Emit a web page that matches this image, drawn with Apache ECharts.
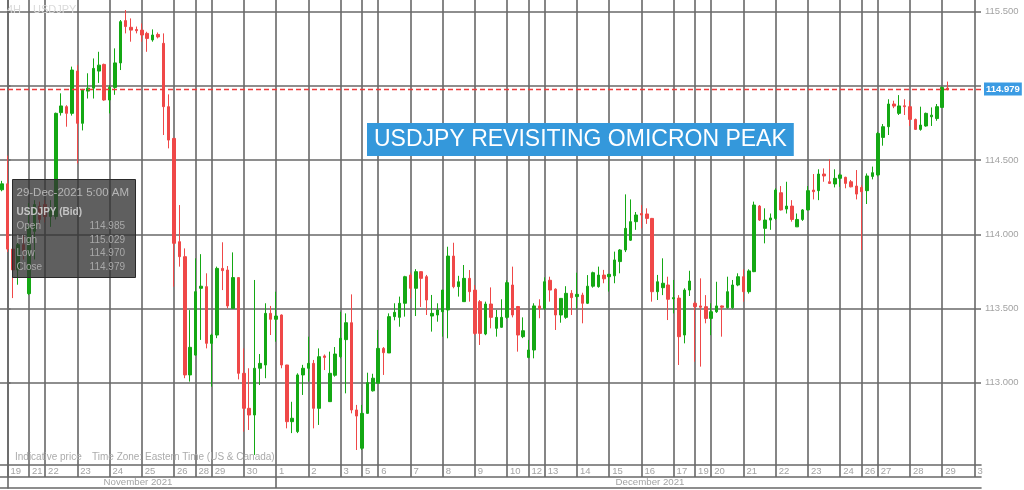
<!DOCTYPE html>
<html><head><meta charset="utf-8">
<script src="https://cdn.jsdelivr.net/npm/echarts@6/dist/echarts.min.js"></script>
<style>html,body{margin:0;padding:0;background:#fff;overflow:hidden}#c{width:1024px;height:490px}</style>
</head><body><div id="c"></div>
<script>
// ---- 4H USDJPY candles (slot index starts at firstSlot) ----
const firstSlot = -1;
const opens = [
114.30,114.34,113.90,113.76,113.93,113.60,114.02,114.19,114.20,114.12,
114.12,114.82,114.86,114.815,115.10,114.748,114.965,114.985,115.10,115.145,
114.905,114.99,115.155,115.44,115.395,115.38,115.376,115.354,115.31,115.347,
115.287,114.86,114.646,113.95,113.849,113.052,113.186,113.636,113.647,113.265,
113.321,113.77,113.759,113.501,113.708,113.063,112.827,112.782,113.097,113.119,
113.467,113.427,113.456,113.119,112.737,112.67,113.052,113.097,113.13,112.827,
113.18,112.872,113.05,113.175,113.29,113.404,112.816,112.558,112.793,112.945,
112.996,113.231,113.20,113.445,113.44,113.535,113.725,113.636,113.748,113.714,
113.449,113.456,113.478,113.49,113.853,113.647,113.546,113.703,113.624,113.546,
113.328,113.53,113.366,113.373,113.44,113.658,113.513,113.31,113.17,113.22,
113.517,113.5,113.69,113.63,113.456,113.44,113.602,113.58,113.59,113.535,
113.65,113.647,113.725,113.714,113.72,113.816,113.894,113.96,114.085,114.14,
114.137,114.107,113.613,113.64,113.658,113.565,113.57,113.321,113.624,113.535,
113.517,113.512,113.433,113.478,113.517,113.505,113.505,113.658,113.714,113.613,
113.748,114.19,114.04,114.096,114.107,114.28,114.17,114.19,114.05,114.1,
114.164,114.298,114.294,114.406,114.354,114.339,114.377,114.384,114.354,114.325,
114.316,114.294,114.39,114.4,114.653,114.725,114.878,114.815,114.866,114.86,
114.774,114.707,114.73,114.792,114.78,114.855,114.985];
const closes = [
114.34,113.90,113.76,113.93,113.89,114.05,114.20,114.10,114.12,114.17,
114.815,114.865,114.815,115.107,114.748,114.972,114.985,115.118,115.14,114.905,
114.99,115.155,115.433,115.40,115.376,115.372,115.343,115.32,115.343,115.33,
114.86,114.635,113.939,113.849,113.052,113.238,113.613,113.65,113.265,113.321,
113.77,113.755,113.517,113.708,113.063,112.827,112.782,113.097,113.13,113.467,
113.427,113.449,113.119,112.737,112.76,113.052,113.097,113.13,112.827,113.175,
113.17,113.063,113.193,113.299,113.404,112.816,112.775,112.793,113.0,113.03,
113.231,113.202,113.445,113.474,113.535,113.714,113.636,113.748,113.703,113.557,
113.467,113.49,113.624,113.853,113.647,113.68,113.703,113.613,113.332,113.332,
113.53,113.44,113.44,113.44,113.674,113.456,113.321,113.35,113.22,113.517,
113.5,113.68,113.624,113.456,113.568,113.602,113.573,113.595,113.535,113.65,
113.741,113.725,113.70,113.73,113.827,113.894,114.04,114.085,114.13,114.13,
114.107,113.613,113.68,113.67,113.562,113.573,113.31,113.624,113.685,113.512,
113.508,113.433,113.478,113.517,113.508,113.613,113.658,113.714,113.613,113.753,
114.197,114.096,114.096,114.11,114.298,114.164,114.19,114.1,114.1,114.164,
114.294,114.287,114.406,114.393,114.343,114.377,114.4,114.343,114.32,114.271,
114.287,114.393,114.415,114.68,114.725,114.878,114.864,114.865,114.86,114.774,
114.707,114.736,114.815,114.803,114.86,114.99,114.979];
const lows = [
114.29,113.88,113.57,113.66,113.83,113.59,113.83,114.05,114.08,114.05,
114.10,114.80,114.725,114.80,114.478,114.70,114.915,114.915,115.02,114.90,
114.815,114.94,115.107,115.354,115.298,115.354,115.298,115.23,115.298,115.32,
114.669,114.579,113.647,113.782,113.03,113.007,113.18,113.288,113.231,112.973,
113.30,113.624,113.501,113.499,113.022,112.67,112.681,112.513,112.984,113.03,
113.321,113.276,113.097,112.692,112.66,112.66,112.917,113.007,112.692,112.715,
113.085,112.87,113.04,113.164,112.928,112.793,112.546,112.546,112.79,112.94,
112.996,113.052,113.2,113.42,113.377,113.445,113.568,113.449,113.51,113.456,
113.344,113.411,113.31,113.299,113.636,113.58,113.546,113.546,113.321,113.254,
113.32,113.366,113.31,113.37,113.43,113.44,113.209,113.3,113.164,113.164,
113.434,113.49,113.546,113.355,113.404,113.43,113.456,113.5,113.4,113.53,
113.64,113.64,113.67,113.614,113.67,113.737,113.88,113.955,114.03,114.04,
114.07,113.546,113.557,113.59,113.422,113.467,113.119,113.265,113.584,113.141,
113.108,113.4,113.32,113.47,113.31,113.5,113.497,113.65,113.546,113.6,
113.745,114.09,113.939,114.03,114.096,114.16,114.14,114.085,114.05,114.09,
114.16,114.235,114.23,114.354,114.34,114.316,114.32,114.31,114.316,114.235,
113.894,114.204,114.37,114.39,114.597,114.669,114.85,114.804,114.804,114.73,
114.703,114.698,114.725,114.73,114.765,114.853,114.970];
const highs = [
114.36,114.53,113.93,113.96,113.99,114.21,114.23,114.22,114.23,114.23,
114.82,114.95,114.87,115.13,115.14,114.98,115.085,115.185,115.23,115.15,
115.005,115.253,115.444,115.511,115.455,115.40,115.421,115.365,115.381,115.36,
115.354,114.943,114.65,114.197,113.905,113.489,113.838,113.866,113.737,113.33,
113.782,113.946,113.786,113.878,113.71,113.231,113.097,113.692,113.193,113.535,
113.517,113.613,113.46,113.12,112.871,113.063,113.12,113.31,113.153,113.231,
113.19,113.209,113.24,113.478,113.467,113.595,112.85,112.85,113.067,113.06,
113.355,113.24,113.467,113.535,113.58,113.72,113.741,113.765,113.75,113.726,
113.591,113.535,113.625,113.916,113.943,113.72,113.793,113.759,113.658,113.557,
113.546,113.642,113.49,113.562,113.69,113.782,113.517,113.44,113.288,113.535,
113.562,113.71,113.714,113.636,113.57,113.65,113.624,113.741,113.606,113.725,
113.748,113.782,113.76,113.733,113.883,113.9,114.269,114.235,114.15,114.197,
114.175,114.11,113.726,113.838,113.714,113.692,113.59,113.636,113.754,113.546,
113.703,113.59,113.535,113.68,113.52,113.714,113.692,113.737,113.764,113.764,
114.22,114.197,114.175,114.14,114.31,114.325,114.354,114.23,114.14,114.17,
114.325,114.406,114.438,114.444,114.505,114.438,114.41,114.388,114.366,114.433,
114.332,114.41,114.456,114.69,114.743,114.91,114.9,114.938,114.91,114.9,
114.78,114.86,114.82,114.855,114.878,114.995,115.029];

// ---- trading days (4H slots per day) ----
const dayLabels = ['19','21','22','23','24','25','26','28','29','30',
  '1','2','3','5','6','7','8','9','10','12','13','14','15','16','17','19','20',
  '21','22','23','24','26','27','28','29','3'];
const daySlots = [4,3,6,6,6,6,4,3,6,6, 6,6,4,3,6,6,6,6,4,3,6,6,6,6,4,3,6,6,6,6,4,3,6,6,6,6];
const monthLabels = ['November 2021','December 2021'];
const monthFirstDay = [0, 10];
const yTicks = [113, 113.5, 114, 114.5, 115, 115.5];
const lastPrice = 114.979;

const tipTitle = '29-Dec-2021 5:00 AM';
const tipSymbol = 'USDJPY (Bid)';
const tipRows = ['Open','High','Low','Close'];
const tipValues = ['114.985','115.029','114.970','114.979'];

// ---- derived ----
const X_MIN = -1.396, X_MAX = 181.22;
const Y_MIN = 112.445, Y_MAX = 115.579;
const GRID_W = 981;
const FONT = "'Liberation Sans', Arial, sans-serif";
const GRID_LINE = {color:'#686868', width:1.6, type:'solid'};
const AXIS_TXT = '#a3a3a3';
const PRICE_LINE = {color:'#ee3b3b', width:1.4, type:[5,3], opacity:1};

const dayStart = []; let acc = 0;
daySlots.forEach(n => { dayStart.push(acc); acc += n; });
const pageRightK = X_MIN + (X_MAX - X_MIN) * 1024 / GRID_W;
const monthBounds = monthFirstDay.map(d => d === 0 ? X_MIN : dayStart[d]);
const monthCenters = monthBounds.map((b,i) => (b + (i + 1 < monthBounds.length ? monthBounds[i+1] : pageRightK)) / 2);
function nearestLabel(v, keys, labels) {
  let best = 0, bd = Infinity;
  keys.forEach((k,i) => { const d = Math.abs(k - v); if (d < bd) { bd = d; best = i; } });
  return bd < 0.01 ? labels[best] : '';
}
const candleData = opens.map((o,i) => [i + firstSlot, o, closes[i], lows[i], highs[i]]);
const noLine = {symbol:['none','none'], silent:true, animation:false, label:{show:false}, lineStyle:GRID_LINE, emphasis:{disabled:true}};

const chart = echarts.init(document.getElementById('c'), null, {renderer:'canvas'});
const TZ = 200;
const tipChildren = [
  {type:'rect', z:TZ, shape:{x:0, y:0, width:123, height:98}, style:{fill:'rgba(50,50,50,0.78)', stroke:'#2a2a2a', lineWidth:1}},
  {type:'text', z:TZ+1, x:4, y:13, style:{text:tipTitle, fill:'#b5b5b5', fontSize:11.5, fontFamily:FONT, verticalAlign:'middle'}},
  {type:'text', z:TZ+1, x:4, y:32.7, style:{text:tipSymbol, fill:'#c4c4c4', fontSize:10, fontWeight:'bold', fontFamily:FONT, verticalAlign:'middle'}}
];
tipRows.forEach((r,i) => {
  const y = 47 + i * 13.5;
  tipChildren.push({type:'text', z:TZ+1, x:4, y:y, style:{text:r, fill:'#a8a8a8', fontSize:10, fontFamily:FONT, verticalAlign:'middle'}});
  tipChildren.push({type:'text', z:TZ+1, x:112.5, y:y, style:{text:tipValues[i], fill:'#a8a8a8', fontSize:10, fontFamily:FONT, align:'right', verticalAlign:'middle'}});
});

chart.setOption({
  animation:false,
  backgroundColor:'#ffffff',
  textStyle:{fontFamily:FONT},
  title:[
    {text:'USDJPY REVISITING OMICRON PEAK', left:367, top:123, backgroundColor:'#3498db', padding:[5,7,5,7],
     textStyle:{color:'#ffffff', fontSize:23, fontWeight:'normal', fontFamily:FONT}},
    {text:'4H', left:7, top:4, padding:0, textStyle:{color:'#dadada', fontSize:11, fontWeight:'normal'}},
    {text:'USDJPY', left:33, top:4, padding:0, textStyle:{color:'#dadada', fontSize:11, fontWeight:'normal'}},
    {text:'Indicative price', left:15, top:452, padding:0, textStyle:{color:'#ababab', fontSize:10, fontWeight:'normal'}},
    {text:'Time Zone: Eastern Time (US & Canada)', left:92, top:452, padding:0, textStyle:{color:'#ababab', fontSize:10, fontWeight:'normal'}}
  ],
  grid:[
    {left:0, top:0, width:GRID_W, height:465},
    {left:0, top:465, width:GRID_W, height:12},
    {left:0, top:477, width:GRID_W, height:11}
  ],
  xAxis:[
    {type:'value', gridIndex:0, min:X_MIN, max:X_MAX, axisLine:{show:true, onZero:false, lineStyle:GRID_LINE},
     axisTick:{show:false}, axisLabel:{show:false}, splitLine:{show:false}},
    {type:'value', gridIndex:1, min:X_MIN, max:X_MAX, position:'bottom', axisLine:{show:true, onZero:false, lineStyle:GRID_LINE},
     axisTick:{show:false}, splitLine:{show:false},
     axisLabel:{show:true, inside:true, customValues:dayStart, margin:1, align:'left', padding:[0,0,0,3],
       color:AXIS_TXT, fontSize:9.5, formatter:v => nearestLabel(v, dayStart, dayLabels)}},
    {type:'value', gridIndex:2, min:X_MIN, max:X_MAX, position:'bottom', axisLine:{show:true, onZero:false, lineStyle:GRID_LINE},
     axisTick:{show:false}, splitLine:{show:false},
     axisLabel:{show:true, inside:true, customValues:monthCenters, margin:1, align:'center',
       color:AXIS_TXT, fontSize:9.7, formatter:v => nearestLabel(v, monthCenters, monthLabels)}}
  ],
  yAxis:[
    {type:'value', gridIndex:0, min:Y_MIN, max:Y_MAX, position:'right', scale:true,
     axisLine:{show:true, lineStyle:GRID_LINE}, splitLine:{show:false},
     axisTick:{show:true, customValues:yTicks, length:3, lineStyle:GRID_LINE},
     axisLabel:{show:true, customValues:yTicks, margin:4, color:AXIS_TXT, fontSize:9.5, formatter:v => v.toFixed(3)}},
    {type:'value', gridIndex:1, min:0, max:1, position:'right', axisLine:{show:true, lineStyle:GRID_LINE},
     axisTick:{show:false}, axisLabel:{show:false}, splitLine:{show:false}},
    {type:'value', gridIndex:2, min:0, max:1, position:'right', axisLine:{show:true, lineStyle:GRID_LINE},
     axisTick:{show:false}, axisLabel:{show:false}, splitLine:{show:false}}
  ],
  series:[
    {type:'line', xAxisIndex:0, yAxisIndex:0, data:[], z:1, silent:true,
     markLine:Object.assign({z:1, data:[...dayStart.map(k => ({xAxis:k})), ...yTicks.map(v => ({yAxis:v}))]}, noLine)},
    {type:'candlestick', xAxisIndex:0, yAxisIndex:0, data:candleData, z:3, barWidth:3, silent:true,
     itemStyle:{color:'#14a814', color0:'#ef4848', borderColor:'#14a814', borderColor0:'#ef4848', borderWidth:1}},
    {type:'line', xAxisIndex:0, yAxisIndex:0, data:[], z:4, silent:true, color:'#ee3b3b',
     markLine:{z:4, symbol:['none','none'], silent:true, animation:false,
       lineStyle:PRICE_LINE,
       label:{show:true, position:'end', distance:3, formatter:lastPrice.toFixed(3), color:'#ffffff',
         backgroundColor:'#3b9be3', padding:[2,2,1,2], fontSize:9.5, fontWeight:'bold'},
       data:[{yAxis:lastPrice, lineStyle:PRICE_LINE}]}},
    {type:'line', xAxisIndex:1, yAxisIndex:1, data:[], z:1, silent:true,
     markLine:Object.assign({z:1, data:dayStart.map(k => ({xAxis:k}))}, noLine)},
    {type:'line', xAxisIndex:2, yAxisIndex:2, data:[], z:1, silent:true,
     markLine:Object.assign({z:1, data:monthFirstDay.slice(1).map(d => ({xAxis:dayStart[d]}))}, noLine)}
  ],
  graphic:[{type:'group', left:12, top:179, z:TZ, children:tipChildren}]
});
</script>
</body></html>
